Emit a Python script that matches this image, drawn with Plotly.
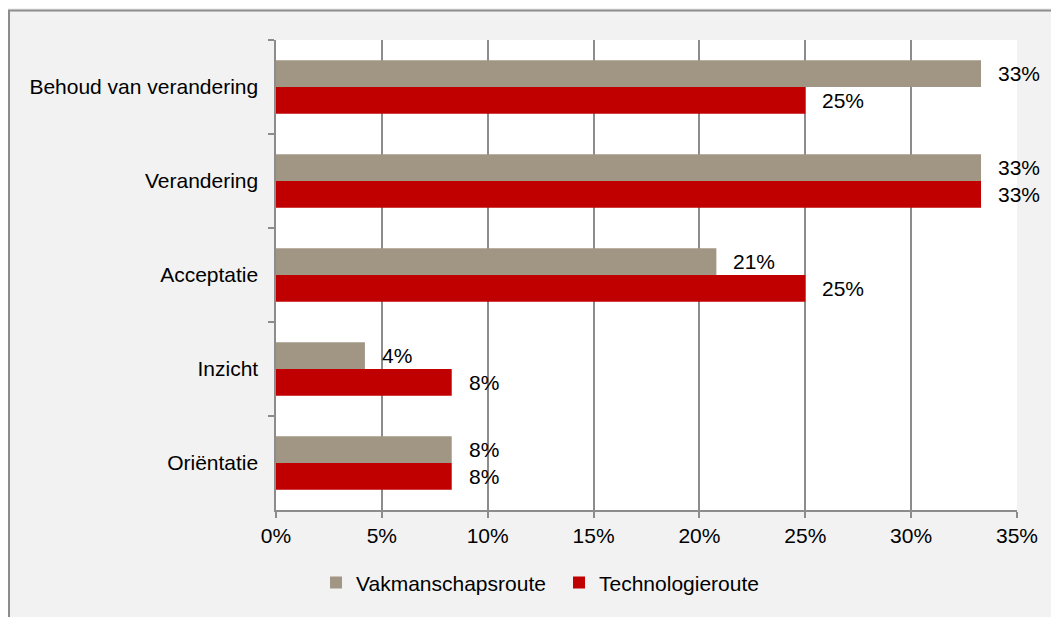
import plotly.graph_objects as go

categories = ["Behoud van verandering", "Verandering", "Acceptatie", "Inzicht", "Oriëntatie"]
vakmanschap = [0.333, 0.333, 0.208, 0.042, 0.083]
technologie = [0.25, 0.333, 0.25, 0.083, 0.083]
x_ticks = [0, 0.05, 0.10, 0.15, 0.20, 0.25, 0.30, 0.35]

GREY = "#A09683"
RED = "#C00000"
LINE = "#8C8C8C"
FONT = "Liberation Sans, Arial, sans-serif"

fig = go.Figure()
fig.add_trace(go.Bar(y=categories, x=vakmanschap, orientation="h", name="Vakmanschapsroute",
                     marker_color=GREY, marker_line_width=0))
fig.add_trace(go.Bar(y=categories, x=technologie, orientation="h", name="Technologieroute",
                     marker_color=RED, marker_line_width=0))

# value labels just past the bar ends
for series, shift in ((vakmanschap, 13.5), (technologie, -13.5)):
    for cat, val in zip(categories, series):
        fig.add_annotation(x=val, y=cat, text=f"{val:.0%}", showarrow=False,
                           xanchor="left", yanchor="middle", xshift=15, yshift=shift,
                           font=dict(size=21, color="black", family=FONT))

# chart frame (left/top edges visible, rest runs off the image)
fig.add_shape(type="rect", xref="paper", yref="paper", x0=-0.3603, x1=1.2, y0=-0.4, y1=1.0628,
              line=dict(color=LINE, width=2), fillcolor="rgba(0,0,0,0)")

fig.update_layout(
    width=1059, height=617,
    margin=dict(l=268, r=50, t=32, b=115),
    barmode="group", bargap=0.43, bargroupgap=0,
    paper_bgcolor="#F2F2F2", plot_bgcolor="white",
    font=dict(family=FONT, size=21, color="black"),
    legend=dict(orientation="h", x=0.054, xanchor="left", y=-0.155, yanchor="middle",
                font=dict(size=21), bgcolor="rgba(0,0,0,0)", entrywidth=198),
    xaxis=dict(range=[0, 0.35], tickvals=x_ticks, tickformat=".0%", showgrid=True,
               gridcolor=LINE, gridwidth=1.5, showline=True, linecolor=LINE, linewidth=1.5,
               ticks="outside", ticklen=6, tickcolor=LINE, tickwidth=1.5, zeroline=False),
    yaxis=dict(autorange="reversed", showline=True, linecolor=LINE, linewidth=1.5,
               ticks="outside", tickson="boundaries", ticklen=6, tickcolor=LINE, tickwidth=1.5,
               showgrid=False, ticksuffix=" ", ticklabelstandoff=6),
)

fig.write_html("out.html")
